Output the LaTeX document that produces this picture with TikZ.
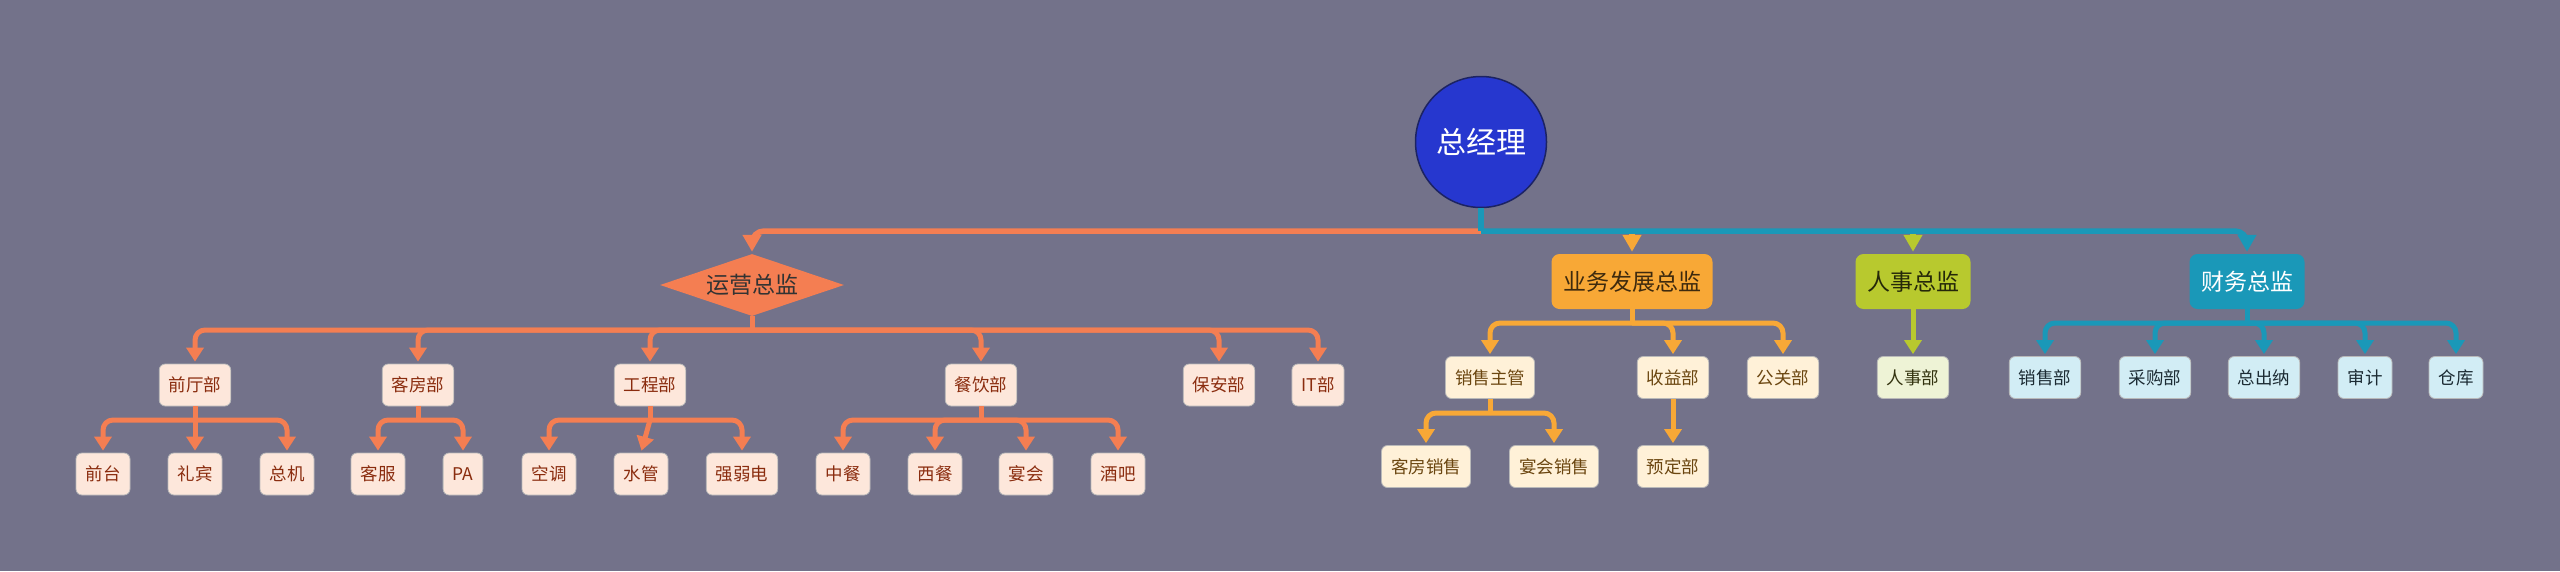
\documentclass[tikz,border=0pt]{standalone}
\usepackage{fontspec}
\setmainfont{Noto Sans CJK SC}
\usetikzlibrary{shapes.geometric,arrows.meta}
\definecolor{bg}{HTML}{73728A}
\definecolor{ocol}{HTML}{F47E52}
\definecolor{ofill}{HTML}{FDE7DB}
\definecolor{otext}{HTML}{8A2C0E}
\definecolor{ycol}{HTML}{F8A836}
\definecolor{yfill}{HTML}{FFF1D8}
\definecolor{ytext}{HTML}{6B4610}
\definecolor{gcol}{HTML}{B8C92E}
\definecolor{gfill}{HTML}{EEF3D6}
\definecolor{gtext}{HTML}{33330F}
\definecolor{tcol}{HTML}{1A98B8}
\definecolor{tfill}{HTML}{D2EDF5}
\definecolor{ttext}{HTML}{1C2B33}
\definecolor{rootfill}{HTML}{2637CF}
\definecolor{rootline}{HTML}{1C2363}
\tikzset{
  leaf/.style={rounded corners=6pt, minimum height=42pt, inner xsep=9.5pt, inner ysep=0pt,
    draw=gray!55, line width=0.8pt, font=\fontsize{17.5}{20}\selectfont},
  oleaf/.style={leaf, fill=ofill, text=otext},
  yleaf/.style={leaf, fill=yfill, text=ytext},
  gleaf/.style={leaf, fill=gfill, text=gtext},
  tleaf/.style={leaf, fill=tfill, text=ttext},
  director/.style={rounded corners=8pt, minimum height=55pt, inner xsep=11.5pt, inner ysep=0pt,
    font=\fontsize{23}{26}\selectfont},
  conn/.style={line width=5pt, rounded corners=10pt, -{Triangle[width=17pt,length=14pt]}, shorten >=2pt},
  topconn/.style={line width=5.5pt, rounded corners=12pt, -{Triangle[width=18pt,length=17pt]}, shorten >=2pt},
  stub/.style={line width=5pt},
}
\begin{document}
\begin{tikzpicture}[x=1pt,y=-1pt]
\fill[bg] (0,0) rectangle (2560,571);
\useasboundingbox (0,0) rectangle (2560,571);

% root
\node[circle, minimum size=131pt, inner sep=0pt, fill=rootfill, draw=rootline, line width=1.5pt,
  text=white, font=\fontsize{30}{34}\selectfont] (gm) at (1481,142) {总经理};

% directors
\node[diamond, shape aspect=3, minimum width=184pt, minimum height=62pt, inner sep=0pt,
  fill=ocol, text=black!80, font=\fontsize{23}{26}\selectfont] (ops) at (752,285) {运营总监};
\node[director, fill=ycol, text=black!75!ycol] (biz) at (1632,281.5) {业务发展总监};
\node[director, fill=gcol, text=black!80!gcol] (hr) at (1913,281.5) {人事总监};
\node[director, fill=tcol, text=white] (fin) at (2247,281.5) {财务总监};

% top connectors
\coordinate (gmb) at (1481,231);
\coordinate (bizt) at (1632,231);
\coordinate (hrt) at (1913,231);
\draw[topconn, ycol] (bizt) -- (biz.north);
\draw[topconn, gcol] (hrt) -- (hr.north);
\draw[topconn, ocol] (gmb) -| (ops.north);
\draw[topconn, tcol] (gmb) -| (fin.north);
\draw[line width=5.5pt, tcol] (gm.south) -- (gmb);

% ===== operations =====
\node[oleaf] (fo) at (195,385) {前厅部};
\node[oleaf] (kf) at (418,385) {客房部};
\node[oleaf] (gc) at (650,385) {工程部};
\node[oleaf] (cy) at (981,385) {餐饮部};
\node[oleaf] (ba) at (1219,385) {保安部};
\node[oleaf] (it) at (1318,385) {IT部};

\coordinate (opsb) at (752,330);
\draw[stub, ocol] (ops.south) -- (opsb);
\foreach \c in {fo,kf,gc,cy,ba,it} \draw[conn, ocol] (opsb) -| (\c.north);

\node[oleaf] (qt) at (103,474) {前台};
\node[oleaf] (lb) at (195,474) {礼宾};
\node[oleaf] (zj) at (287,474) {总机};
\node[oleaf] (kfu) at (378,474) {客服};
\node[oleaf] (pa) at (463,474) {PA};
\node[oleaf] (kt) at (549,474) {空调};
\node[oleaf] (sg) at (641,474) {水管};
\node[oleaf] (qrd) at (742,474) {强弱电};
\node[oleaf] (zc) at (843,474) {中餐};
\node[oleaf] (xc) at (935,474) {西餐};
\node[oleaf] (yh) at (1026,474) {宴会};
\node[oleaf] (jb) at (1118,474) {酒吧};

\coordinate (fob) at (195,420);
\coordinate (kfb) at (418,420);
\coordinate (gcb) at (650,420);
\coordinate (cyb) at (981,420);
\draw[stub, ocol] (fo.south) -- (fob);
\draw[stub, ocol] (kf.south) -- (kfb);
\draw[stub, ocol] (gc.south) -- (gcb);
\draw[stub, ocol] (cy.south) -- (cyb);
\draw[conn, ocol] (fob) -| (qt.north);
\draw[conn, ocol] (fob) -- (lb.north);
\draw[conn, ocol] (fob) -| (zj.north);
\draw[conn, ocol] (kfb) -| (kfu.north);
\draw[conn, ocol] (kfb) -| (pa.north);
\draw[conn, ocol] (gcb) -| (kt.north);
\draw[conn, ocol] (gcb) -- (sg.north);
\draw[conn, ocol] (gcb) -| (qrd.north);
\foreach \c in {zc,xc,yh,jb} \draw[conn, ocol] (cyb) -| (\c.north);

% ===== business =====
\node[yleaf] (xszg) at (1490,377.5) {销售主管};
\node[yleaf] (syb) at (1673,377.5) {收益部};
\node[yleaf] (ggb) at (1783,377.5) {公关部};
\node[yleaf] (kfxs) at (1426,466.5) {客房销售};
\node[yleaf] (yhxs) at (1554,466.5) {宴会销售};
\node[yleaf] (ydb) at (1673,466.5) {预定部};

\coordinate (bizb) at (1632,323);
\coordinate (xszgb) at (1490,413);
\draw[stub, ycol] (biz.south) -- (bizb);
\foreach \c in {xszg,syb,ggb} \draw[conn, ycol] (bizb) -| (\c.north);
\draw[stub, ycol] (xszg.south) -- (xszgb);
\draw[conn, ycol] (xszgb) -| (kfxs.north);
\draw[conn, ycol] (xszgb) -| (yhxs.north);
\draw[conn, ycol] (syb.south) -- (ydb.north);

% ===== HR =====
\node[gleaf] (rsb) at (1913,377.5) {人事部};
\draw[conn, gcol] (hr.south) -- (rsb.north);

% ===== finance =====
\node[tleaf] (xsb) at (2045,377.5) {销售部};
\node[tleaf] (cgb) at (2155,377.5) {采购部};
\node[tleaf] (zcn) at (2264,377.5) {总出纳};
\node[tleaf] (sj) at (2365,377.5) {审计};
\node[tleaf] (ck) at (2456,377.5) {仓库};
\coordinate (finb) at (2247,323);
\draw[stub, tcol] (fin.south) -- (finb);
\foreach \c in {xsb,cgb,zcn,sj,ck} \draw[conn, tcol] (finb) -| (\c.north);
\end{tikzpicture}
\end{document}
